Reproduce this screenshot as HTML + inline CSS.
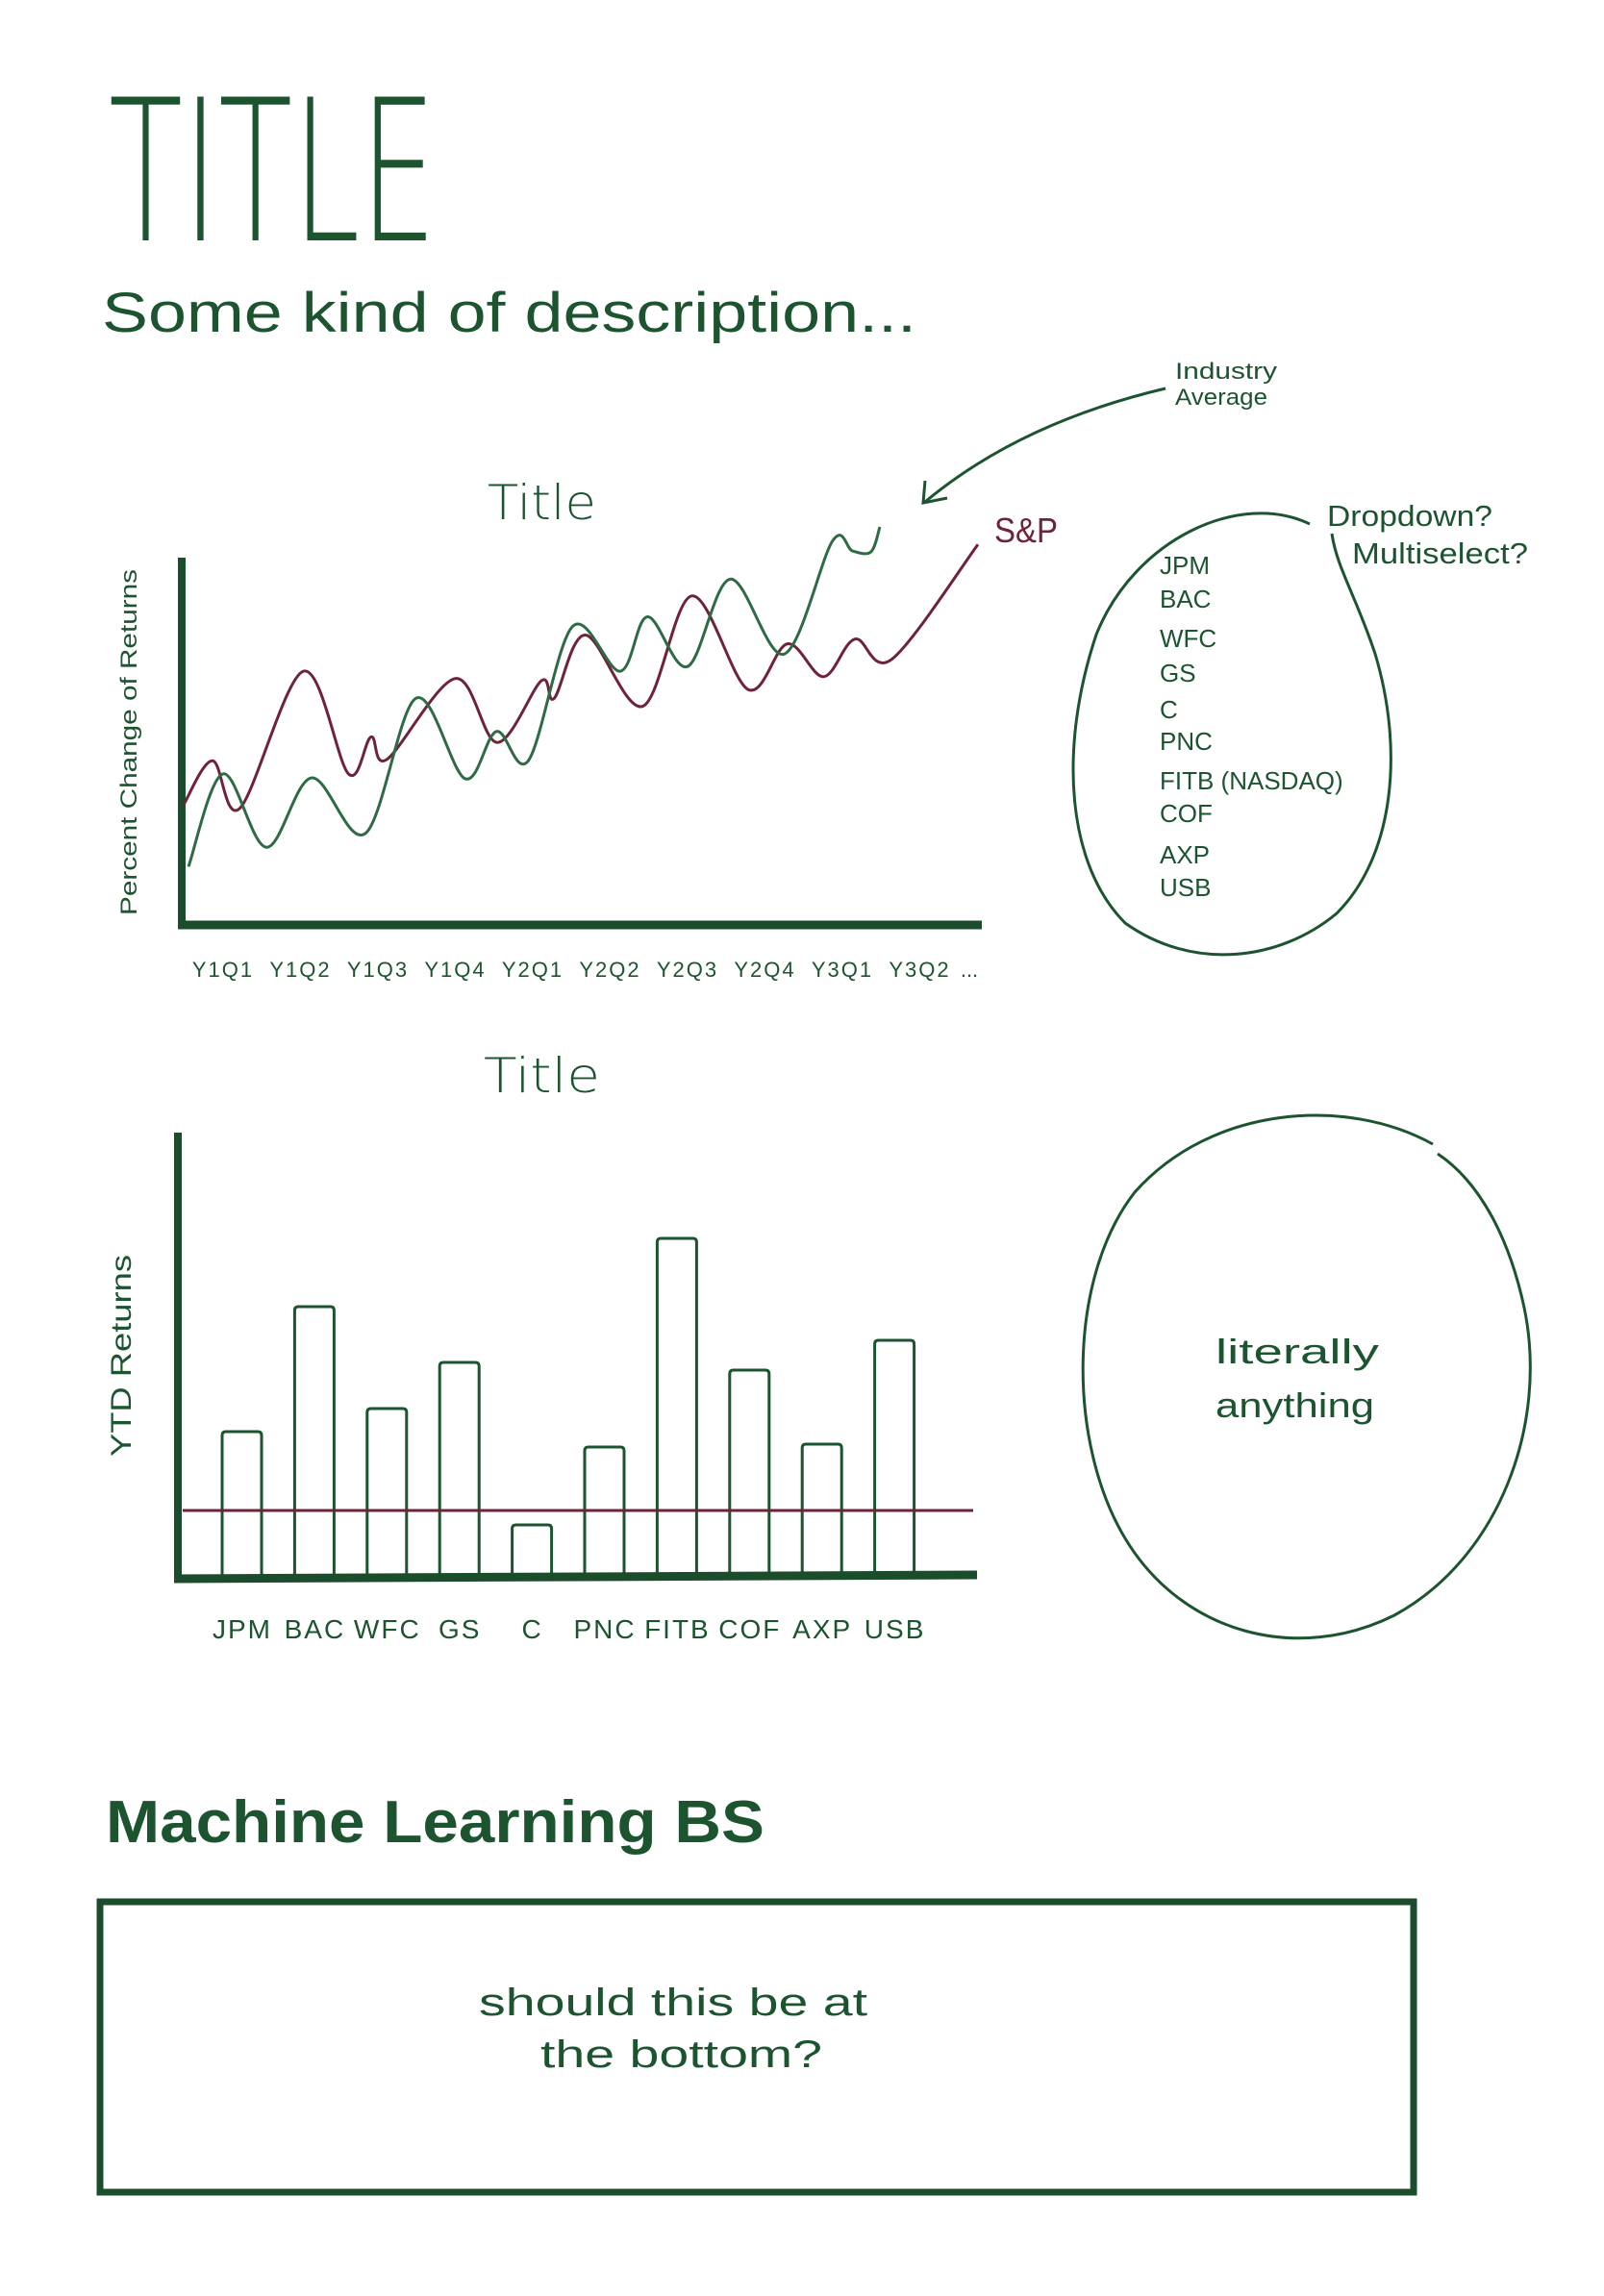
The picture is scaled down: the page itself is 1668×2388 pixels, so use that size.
<!DOCTYPE html>
<html><head><meta charset="utf-8"><style>
html,body{margin:0;padding:0;background:#fff;}
svg{display:block;}
text{font-family:"Liberation Sans",sans-serif;fill:#1d5430;}
.thin{font-family:"DejaVu Sans ExtraLight","DejaVu Sans","Liberation Sans",sans-serif;font-weight:200;}
</style></head><body>
<svg id="page" width="1668" height="2388" viewBox="0 0 1668 2388">
<text class="thin" x="113" y="250" font-size="205" textLength="341" lengthAdjust="spacingAndGlyphs">TITLE</text>
<text x="106" y="345" font-size="58" textLength="847" lengthAdjust="spacingAndGlyphs">Some kind of description...</text>

<g id="line-chart">
<text class="thin" x="507" y="540" font-size="50" textLength="113" lengthAdjust="spacingAndGlyphs">Title</text>
<text transform="translate(142,772) rotate(-90)" text-anchor="middle" font-size="24" textLength="360" lengthAdjust="spacingAndGlyphs">Percent Change of Returns</text>
<line x1="189" y1="580" x2="189" y2="966" stroke="#1b4d2c" stroke-width="8"/>
<line x1="185" y1="962" x2="1021" y2="962" stroke="#1b4d2c" stroke-width="9"/>
<g id="xticks"></g>
<g id="lines"></g>
<text x="1034" y="564" font-size="36" style="fill:#6e2338" textLength="66" lengthAdjust="spacingAndGlyphs">S&amp;P</text>
<text x="1222" y="394" font-size="24" textLength="106" lengthAdjust="spacingAndGlyphs">Industry</text>
<text x="1222" y="421" font-size="24" textLength="96" lengthAdjust="spacingAndGlyphs">Average</text>
<path d="M1212,404 Q1060,440 962,522" fill="none" stroke="#1d5430" stroke-width="3"/>
<path d="M962,500 L960,523 L985,518" fill="none" stroke="#1d5430" stroke-width="3"/>
</g>

<g>
<path d="M1362,545 C1290,510 1180,560 1140,660 C1100,780 1110,900 1170,960 C1240,1010 1330,1000 1390,950 C1450,890 1460,780 1430,680 C1410,620 1390,590 1385,555" fill="none" stroke="#1d5430" stroke-width="3"/>
<text x="1380" y="547" font-size="31" textLength="172" lengthAdjust="spacingAndGlyphs">Dropdown?</text>
<text x="1406" y="586" font-size="31" textLength="183" lengthAdjust="spacingAndGlyphs">Multiselect?</text>
<g id="company-list" font-size="27"></g>
</g>

<g id="bar-chart" transform="translate(0,10)">
<text class="thin" x="503" y="1126" font-size="50" textLength="121" lengthAdjust="spacingAndGlyphs">Title</text>
<text transform="translate(136,1400) rotate(-90)" text-anchor="middle" font-size="30" textLength="210" lengthAdjust="spacingAndGlyphs">YTD Returns</text>
<g id="bars"></g>
<line x1="185" y1="1168" x2="185" y2="1636" stroke="#1b4d2c" stroke-width="8"/>
<line x1="181" y1="1632" x2="1016" y2="1628" stroke="#1b4d2c" stroke-width="9"/>
<g id="barlabels"></g>
</g>

<g>
<path d="M1490,1190 C1400,1140 1260,1150 1180,1240 C1110,1330 1110,1500 1170,1600 C1230,1700 1350,1730 1450,1680 C1560,1620 1610,1480 1585,1360 C1570,1290 1540,1230 1495,1200" fill="none" stroke="#1d5430" stroke-width="3"/>
<text x="1264" y="1418" font-size="36" textLength="170" lengthAdjust="spacingAndGlyphs">literally</text>
<text x="1264" y="1474" font-size="36" textLength="165" lengthAdjust="spacingAndGlyphs">anything</text>
</g>

<text x="110" y="1916" font-size="62" font-weight="bold" textLength="685" lengthAdjust="spacingAndGlyphs">Machine Learning BS</text>
<rect x="104" y="1978" width="1366" height="302" fill="none" stroke="#1b4d2c" stroke-width="7"/>
<text x="498" y="2096" font-size="40" textLength="404" lengthAdjust="spacingAndGlyphs">should this be at</text>
<text x="562" y="2150" font-size="40" textLength="293" lengthAdjust="spacingAndGlyphs">the bottom?</text>
</svg>
<script>
const quarterLabels = ["Y1Q1","Y1Q2","Y1Q3","Y1Q4","Y2Q1","Y2Q2","Y2Q3","Y2Q4","Y3Q1","Y3Q2"];
const spT = [0,0.36,0.70,1.49,2.05,2.33,2.53,3.38,3.90,4.45,4.61,5.00,5.71,6.32,7.02,7.51,7.96,8.35,8.81,9.88];
const spV = [34,46,33,70.5,42.4,52.5,46.4,68.5,51,67.9,63.1,80.4,60.9,91.1,65.5,78,69,79.3,73.8,105.2];
const indT = [0.06,0.49,1.03,1.59,2.26,2.89,3.50,3.89,4.29,4.84,5.43,5.77,6.27,6.80,7.47,8.07,8.32,8.55,8.66];
const indV = [17,42.4,22.3,41.3,26.1,63.1,41.1,54,46.1,82.8,70.5,85.4,71.8,95.7,75.2,106.1,103.4,103.2,110];
const companies = ["JPM","BAC","WFC","GS","C","PNC","FITB","COF","AXP","USB"];
const listLabels = ["JPM","BAC","WFC","GS","C","PNC","FITB (NASDAQ)","COF","AXP","USB"];
const ytdReturns = [38.25,70.75,44.25,56.25,14,34.25,88.5,54.25,35,62];
const benchmark = [17.75];

const NS="http://www.w3.org/2000/svg";
function mk(tag,attrs,parent){const e=document.createElementNS(NS,tag);for(const k in attrs)e.setAttribute(k,attrs[k]);parent.appendChild(e);return e;}
const xL=t=>191+t*83.6, yL=v=>966-v*3.8;
function smooth(ts,vs){const p=ts.map((t,i)=>[xL(t),yL(vs[i])]);let d="M"+p[0][0]+","+p[0][1];
for(let i=0;i<p.length-1;i++){const p0=p[Math.max(0,i-1)],p1=p[i],p2=p[i+1],p3=p[Math.min(p.length-1,i+2)];
d+=" C"+(p1[0]+(p2[0]-p0[0])/6)+","+(p1[1]+(p2[1]-p0[1])/6)+" "+(p2[0]-(p3[0]-p1[0])/6)+","+(p2[1]-(p3[1]-p1[1])/6)+" "+p2[0]+","+p2[1];}return d;}
const lines=document.getElementById("lines");
const l1=mk("path",{d:smooth(spT,spV),fill:"none",stroke:"#6e2338","stroke-width":3},lines);


const l2=mk("path",{d:smooth(indT,indV),fill:"none",stroke:"#2e6b45","stroke-width":3},lines);


const xt=document.getElementById("xticks");
quarterLabels.forEach((q,i)=>{const t=mk("text",{x:232+i*80.5,y:1016,"font-size":22,"text-anchor":"middle","letter-spacing":"2"},xt);t.textContent=q;

});
const dots=mk("text",{x:1008,y:1016,"font-size":22,"text-anchor":"middle"},xt);dots.textContent="...";


const cl=document.getElementById("company-list");
const listY=[597,632,673,709,747,780,821,855,898,932];
listLabels.forEach((c,i)=>{const t=mk("text",{x:1206,y:listY[i],"font-size":26},cl);t.textContent=c;

});
const yB=v=>1632-v*4, xB=i=>252+i*75.4;
const bars=document.getElementById("bars");
ytdReturns.forEach((v,i)=>{const x=xB(i)-21,y=yB(v);
const r=mk("path",{d:`M${x},1630 L${x},${y+4} Q${x},${y} ${x+4},${y} L${x+37},${y} Q${x+41},${y} ${x+41},${y+4} L${x+41},1630`,fill:"none",stroke:"#1d5430","stroke-width":3},bars);

});
const bl=mk("line",{x1:190,x2:1012,y1:yB(benchmark[0]),y2:yB(benchmark[0]),stroke:"#6e2338","stroke-width":3},bars);


const blg=document.getElementById("barlabels");
companies.forEach((c,i)=>{const t=mk("text",{x:xB(i),y:1694,"font-size":28,"text-anchor":"middle","letter-spacing":"2"},blg);t.textContent=c;

});
</script>
</body></html>
